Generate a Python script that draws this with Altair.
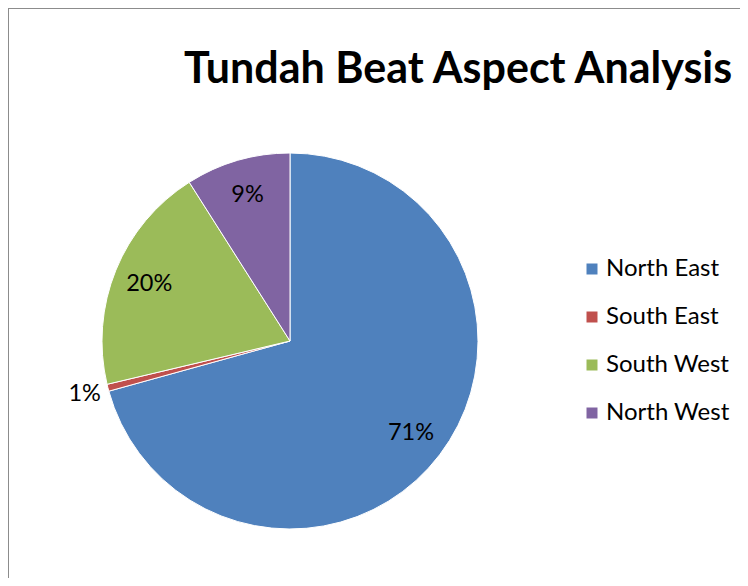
import altair as alt
import pandas as pd

categories = ["North East", "South East", "South West", "North West"]
values = [70.7, 0.6, 19.7, 9.0]
colors = ["#4F81BD", "#C0504D", "#9BBB59", "#8064A2"]
title_text = "Tundah Beat Aspect Analysis"

W, H = 732, 570
CX, CY, R = 282, 333, 188
FONT = "Lato"
total = sum(values)

df = pd.DataFrame({"category": categories, "value": values, "idx": range(len(categories))})

base = alt.Chart(df).transform_window(
    cum="sum(value)", sort=[alt.SortField("idx")], frame=[None, 0]
).transform_calculate(
    cum0="datum.cum - datum.value",
    mid="datum.cum - datum.value / 2",
    pct=f"datum.value / {total}",
    lr="datum.value < 2 ? 212 : 152",
)

theta_scale = alt.Scale(domain=[0, total])

color = alt.Color(
    "category:N",
    scale=alt.Scale(domain=categories, range=colors),
    sort=categories,
    legend=alt.Legend(
        title=None,
        orient="none",
        legendX=572,
        legendY=249,
        symbolType="square",
        symbolSize=121,
        symbolStrokeWidth=0,
        labelFont=FONT,
        labelFontSize=24,
        labelColor="#000000",
        rowPadding=24,
        labelOffset=2,
    ),
)

pie = base.mark_arc(outerRadius=R, stroke="white", strokeWidth=1).encode(
    theta=alt.Theta("cum0:Q", scale=theta_scale),
    theta2="cum:Q",
    color=color,
    x=alt.value(CX),
    y=alt.value(CY),
)

labels = base.mark_text(font=FONT, fontSize=23.5, color="#000000", baseline="middle").encode(
    theta=alt.Theta("mid:Q", scale=theta_scale),
    radius=alt.Radius("lr:Q", scale=None),
    text=alt.Text("pct:Q", format=".0%"),
    x=alt.value(CX),
    y=alt.value(CY),
)

frame_data = alt.Data(values=[{"t": title_text}])
left_rule = alt.Chart(frame_data).mark_rule(color="#8c8c8c", strokeWidth=2).encode(
    x=alt.value(0), y=alt.value(0), y2=alt.value(H + 20)
)
top_rule = alt.Chart(frame_data).mark_rule(color="#8c8c8c", strokeWidth=2).encode(
    x=alt.value(0), x2=alt.value(W + 20), y=alt.value(0)
)
title = alt.Chart(frame_data).mark_text(
    font=FONT, fontSize=43, fontWeight="bold", align="left", baseline="alphabetic", color="#000000"
).encode(text="t:N", x=alt.value(176), y=alt.value(75))

chart = alt.layer(left_rule, top_rule, title, pie, labels).properties(
    width=W, height=H, padding=0, autosize=alt.AutoSizeParams(type="none"),
).configure_view(stroke="transparent")

chart.save("out.html", embed_options={"renderer": "svg", "actions": False})
